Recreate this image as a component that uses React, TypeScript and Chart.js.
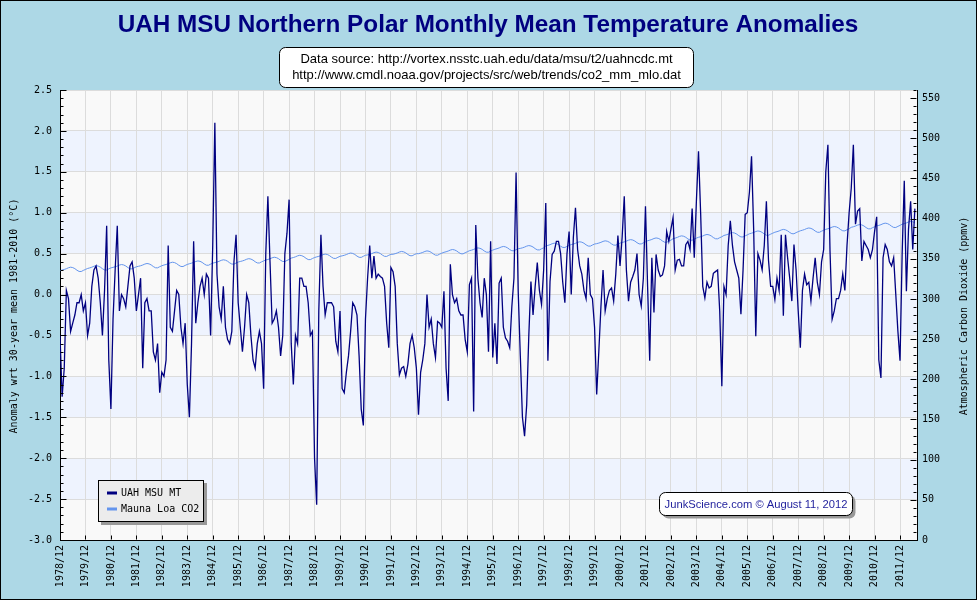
import React, { useEffect, useRef } from "react";
import { Chart, registerables } from "chart.js";

Chart.register(...registerables);

const chartTitle = "UAH MSU Northern Polar Monthly Mean Temperature Anomalies";
const sourceLines = [
  "Data source: http://vortex.nsstc.uah.edu/data/msu/t2/uahncdc.mt",
  "http://www.cmdl.noaa.gov/projects/src/web/trends/co2_mm_mlo.dat",
];
const creditText = "JunkScience.com \u00A9 August 11, 2012";
const leftAxisTitle = "Anomaly wrt 30-year mean 1981-2010 (\u00B0C)";
const rightAxisTitle = "Atmospheric Carbon Dioxide (ppmv)";
const seriesNames = ["UAH MSU MT", "Mauna Loa CO2"];

const xTickLabels = [
  "1978/12", "1979/12", "1980/12", "1981/12", "1982/12", "1983/12", "1984/12",
  "1985/12", "1986/12", "1987/12", "1988/12", "1989/12", "1990/12", "1991/12",
  "1992/12", "1993/12", "1994/12", "1995/12", "1996/12", "1997/12", "1998/12",
  "1999/12", "2000/12", "2001/12", "2002/12", "2003/12", "2004/12", "2005/12",
  "2006/12", "2007/12", "2008/12", "2009/12", "2010/12", "2011/12",
];
const xTickMonths = [
  0, 12, 24, 36, 48, 60, 72, 84, 96, 108, 120, 132, 144, 156, 168, 180, 192,
  204, 216, 228, 240, 252, 264, 276, 288, 300, 312, 324, 336, 348, 360, 372, 384, 396,
];
const yTickValues = [-3, -2.5, -2, -1.5, -1, -0.5, 0, 0.5, 1, 1.5, 2, 2.5];
const co2TickValues = [0, 50, 100, 150, 200, 250, 300, 350, 400, 450, 500, 550];

// UAH MSU MT Northern Polar monthly anomalies, 1978/12 .. 2012/07
const uahAnomaly = [
  -0.5, -1.25, -0.9, 0.05, -0.05, -0.45, -0.35, -0.25, -0.1, -0.1, 0.0, -0.2,
  -0.1, -0.5, -0.35, 0.1, 0.3, 0.35, 0.2, -0.1, -0.5, 0.05, 0.84, -0.8,
  -1.4, -0.3, 0.3, 0.84, -0.2, 0.0, -0.05, -0.15, 0.1, 0.35, 0.4, 0.2,
  -0.2, 0.0, 0.2, -0.9, -0.1, -0.05, -0.2, -0.2, -0.7, -0.8, -0.6, -1.2,
  -0.95, -1.0, -0.8, 0.6, -0.4, -0.45, -0.2, 0.05, 0.0, -0.4, -0.6, -0.35,
  -1.1, -1.5, -0.6, 0.65, -0.35, -0.1, 0.1, 0.2, 0.0, 0.25, 0.2, -0.5,
  0.6, 2.1, 0.25, -0.15, -0.3, 0.1, -0.4, -0.55, -0.6, -0.45, 0.4, 0.73,
  -0.1, -0.4, -0.7, -0.4, 0.0, -0.1, -0.5, -0.8, -0.9, -0.6, -0.45, -0.6,
  -1.15, 0.5, 1.2, 0.4, -0.35, -0.3, -0.2, -0.4, -0.75, -0.5, 0.5, 0.75,
  1.16, -0.6, -1.1, -0.5, -0.6, 0.2, 0.2, 0.1, 0.1, -0.1, -0.5, -0.45,
  -2.0, -2.57, -0.2, 0.73, 0.1, -0.25, -0.1, -0.1, -0.1, -0.15, -0.57, -0.7,
  -0.2, -1.15, -1.2, -0.95, -0.75, -0.45, -0.1, -0.15, -0.25, -0.75, -1.4, -1.6,
  -0.3, 0.2, 0.6, 0.2, 0.47, 0.2, 0.25, 0.22, 0.2, 0.1, -0.35, -0.65,
  0.33, 0.28, 0.1, -0.6, -0.98, -0.9, -0.88, -1.0, -0.85, -0.6, -0.5, -0.65,
  -0.9, -1.47, -0.95, -0.8, -0.6, 0.0, -0.4, -0.3, -0.6, -0.77, -0.33, -0.35,
  -0.4, 0.04, -0.9, -1.3, 0.37, 0.0, -0.1, -0.05, -0.2, -0.25, -0.25, -0.55,
  -0.7, 0.12, 0.2, -1.43, 0.85, 0.2, -0.1, -0.28, 0.2, 0.0, -0.7, 0.65,
  -0.77, -0.35, -0.85, 0.14, 0.2, -0.4, -0.53, -0.57, -0.65, -0.15, 0.2, 1.49,
  0.04, -0.75, -1.5, -1.73, -1.35, -0.5, 0.16, -0.25, 0.1, 0.39, 0.05, -0.12,
  0.3, 1.12, -0.81, 0.16, 0.49, 0.53, 0.65, 0.65, 0.5, 0.15, -0.1, 0.5,
  0.77, 0.0, 0.7, 1.06, 0.55, 0.35, 0.25, 0.05, -0.05, 0.45, 0.0, -0.05,
  -0.4, -1.22, -0.7, -0.15, 0.3, -0.2, -0.05, 0.05, 0.08, -0.08, 0.25, 0.72,
  0.35, 0.7, 1.2, 0.3, -0.08, 0.15, 0.22, 0.3, 0.5, 0.0, -0.14, 0.2,
  1.08, 0.1, -0.81, 0.45, -0.22, 0.49, 0.3, 0.22, 0.24, 0.35, 0.77, 0.65,
  0.8, 0.94, 0.3, 0.42, 0.43, 0.35, 0.35, 0.61, 0.65, 0.55, 1.05, 0.45,
  1.14, 1.75, 1.0, 0.1, -0.04, 0.15, 0.08, 0.1, 0.26, 0.28, 0.3, -0.2,
  -1.12, 0.1, 0.0, 0.6, 0.9, 0.6, 0.4, 0.3, 0.2, -0.24, 0.3, 0.98,
  1.0, 1.25, 1.69, 0.8, -0.51, 0.5, 0.42, 0.3, 0.6, 1.14, 0.42, 0.1,
  0.1, -0.06, 0.2, 0.05, 0.73, -0.26, 0.73, 0.45, 0.2, -0.08, 0.61, 0.3,
  -0.2, -0.65, 0.05, 0.25, 0.12, 0.15, -0.08, 0.2, 0.45, 0.15, 0.0, 0.4,
  0.55, 1.5, 1.83, 0.53, -0.3, -0.2, -0.05, -0.05, 0.05, 0.25, 0.05, 0.6,
  1.0, 1.3, 1.83, 0.86, 1.02, 1.05, 0.41, 0.65, 0.6, 0.55, 0.45, 0.55,
  0.77, 0.95, -0.8, -1.02, 0.45, 0.61, 0.55, 0.4, 0.35, 0.45, 0.0, -0.45,
  -0.81, 0.5, 1.39, 0.04, 0.8, 1.14, 0.55, 1.05,
];

// Mauna Loa monthly CO2 (ppmv), 1978/12 .. 2012/07
const co2Ppmv = [
  335.1,
  336.0, 336.7, 337.6, 338.8, 339.5, 339.0, 337.7, 335.7, 334.2, 334.1, 335.5, 336.7,
  337.9, 338.6, 339.5, 340.7, 341.4, 340.9, 339.6, 337.6, 336.1, 336.0, 337.4, 338.6,
  339.3, 340.0, 340.9, 342.1, 342.8, 342.3, 341.0, 339.0, 337.5, 337.4, 338.8, 340.0,
  340.6, 341.3, 342.2, 343.4, 344.1, 343.6, 342.3, 340.3, 338.8, 338.7, 340.1, 341.3,
  342.2, 342.9, 343.8, 345.0, 345.7, 345.2, 343.9, 341.9, 340.4, 340.3, 341.7, 342.9,
  343.8, 344.5, 345.4, 346.6, 347.3, 346.8, 345.5, 343.5, 342.0, 341.9, 343.3, 344.5,
  345.2, 345.9, 346.8, 348.0, 348.7, 348.2, 346.9, 344.9, 343.4, 343.3, 344.7, 345.9,
  346.6, 347.3, 348.2, 349.4, 350.1, 349.6, 348.3, 346.3, 344.8, 344.7, 346.1, 347.3,
  348.4, 349.1, 350.0, 351.2, 351.9, 351.4, 350.1, 348.1, 346.6, 346.5, 347.9, 349.1,
  350.8, 351.5, 352.4, 353.6, 354.3, 353.8, 352.5, 350.5, 349.0, 348.9, 350.3, 351.5,
  352.3, 353.0, 353.9, 355.1, 355.8, 355.3, 354.0, 352.0, 350.5, 350.4, 351.8, 353.0,
  353.6, 354.3, 355.2, 356.4, 357.1, 356.6, 355.3, 353.3, 351.8, 351.7, 353.1, 354.3,
  354.8, 355.5, 356.4, 357.6, 358.3, 357.8, 356.5, 354.5, 353.0, 352.9, 354.3, 355.5,
  355.6, 356.3, 357.2, 358.4, 359.1, 358.6, 357.3, 355.3, 353.8, 353.7, 355.1, 356.3,
  356.3, 357.0, 357.9, 359.1, 359.8, 359.3, 358.0, 356.0, 354.5, 354.4, 355.8, 357.0,
  358.0, 358.7, 359.6, 360.8, 361.5, 361.0, 359.7, 357.7, 356.2, 356.1, 357.5, 358.7,
  360.0, 360.7, 361.6, 362.8, 363.5, 363.0, 361.7, 359.7, 358.2, 358.1, 359.5, 360.7,
  361.8, 362.5, 363.4, 364.6, 365.3, 364.8, 363.5, 361.5, 360.0, 359.9, 361.3, 362.5,
  362.9, 363.6, 364.5, 365.7, 366.4, 365.9, 364.6, 362.6, 361.1, 361.0, 362.4, 363.6,
  365.9, 366.6, 367.5, 368.7, 369.4, 368.9, 367.6, 365.6, 364.1, 364.0, 365.4, 366.6,
  367.6, 368.3, 369.2, 370.4, 371.1, 370.6, 369.3, 367.3, 365.8, 365.7, 367.1, 368.3,
  368.8, 369.5, 370.4, 371.6, 372.3, 371.8, 370.5, 368.5, 367.0, 366.9, 368.3, 369.5,
  370.3, 371.0, 371.9, 373.1, 373.8, 373.3, 372.0, 370.0, 368.5, 368.4, 369.8, 371.0,
  372.4, 373.1, 374.0, 375.2, 375.9, 375.4, 374.1, 372.1, 370.6, 370.5, 371.9, 373.1,
  375.0, 375.7, 376.6, 377.8, 378.5, 378.0, 376.7, 374.7, 373.2, 373.1, 374.5, 375.7,
  376.7, 377.4, 378.3, 379.5, 380.2, 379.7, 378.4, 376.4, 374.9, 374.8, 376.2, 377.4,
  379.0, 379.7, 380.6, 381.8, 382.5, 382.0, 380.7, 378.7, 377.2, 377.1, 378.5, 379.7,
  381.1, 381.8, 382.7, 383.9, 384.6, 384.1, 382.8, 380.8, 379.3, 379.2, 380.6, 381.8,
  383.0, 383.7, 384.6, 385.8, 386.5, 386.0, 384.7, 382.7, 381.2, 381.1, 382.5, 383.7,
  384.8, 385.5, 386.4, 387.6, 388.3, 387.8, 386.5, 384.5, 383.0, 382.9, 384.3, 385.5,
  386.6, 387.3, 388.2, 389.4, 390.1, 389.6, 388.3, 386.3, 384.8, 384.7, 386.1, 387.3,
  389.1, 389.8, 390.7, 391.9, 392.6, 392.1, 390.8, 388.8, 387.3, 387.2, 388.6, 389.8,
  390.8, 391.5, 392.4, 393.6, 394.3, 393.8, 392.5, 390.5, 389.0, 388.9, 390.3, 391.5,
  393.0, 393.7, 394.6, 395.8, 396.5, 396.0, 394.7,
];

const MONO = '"DejaVu Sans Mono", monospace';
const SANS = '"Liberation Sans", Arial, sans-serif';
const NAVY = "#000080";
const CO2_BLUE = "#6495ed";

function roundRect(ctx: CanvasRenderingContext2D, x: number, y: number, w: number, h: number, r: number) {
  ctx.beginPath();
  ctx.moveTo(x + r, y);
  ctx.lineTo(x + w - r, y);
  ctx.arcTo(x + w, y, x + w, y + r, r);
  ctx.lineTo(x + w, y + h - r);
  ctx.arcTo(x + w, y + h, x + w - r, y + h, r);
  ctx.lineTo(x + r, y + h);
  ctx.arcTo(x, y + h, x, y + h - r, r);
  ctx.lineTo(x, y + r);
  ctx.arcTo(x, y, x + r, y, r);
  ctx.closePath();
}

const framePlugin = {
  id: "frame",
  beforeDraw(chart: any) {
    const { ctx, chartArea, scales } = chart;
    ctx.save();
    ctx.fillStyle = "#add8e6";
    ctx.fillRect(0, 0, chart.width, chart.height);
    ctx.fillStyle = "#f9f9f9";
    ctx.fillRect(chartArea.left, chartArea.top, chartArea.right - chartArea.left, chartArea.bottom - chartArea.top);
    const ys = scales.y;
    ctx.fillStyle = "#eef3fe";
    for (let k = 1; k < yTickValues.length - 1; k += 2) {
      const y1 = ys.getPixelForValue(yTickValues[k]);
      const y2 = ys.getPixelForValue(yTickValues[k + 1]);
      ctx.fillRect(chartArea.left, y2, chartArea.right - chartArea.left, y1 - y2);
    }
    ctx.restore();
  },
  afterDraw(chart: any) {
    const { ctx, chartArea, scales } = chart;
    const ys = scales.y;
    const y2s = scales.y2;
    const xs = scales.x;
    ctx.save();

    // inside tick marks
    ctx.strokeStyle = "#000";
    ctx.lineWidth = 1;
    ctx.beginPath();
    const L = Math.round(chartArea.left) + 0.5;
    const R = Math.round(chartArea.right) - 0.5;
    const B = Math.round(chartArea.bottom) - 0.5;
    for (let k = 0; k < yTickValues.length; k++) {
      const base = yTickValues[k];
      const py = Math.round(ys.getPixelForValue(base)) + 0.5;
      ctx.moveTo(L, py);
      ctx.lineTo(L + 6, py);
      if (k < yTickValues.length - 1) {
        for (let m = 1; m < 5; m++) {
          const my = Math.round(ys.getPixelForValue(base + m * 0.1)) + 0.5;
          ctx.moveTo(L, my);
          ctx.lineTo(L + 3, my);
        }
      }
    }
    for (let v = 0; v <= 560; v += 10) {
      const py = Math.round(y2s.getPixelForValue(v)) + 0.5;
      const len = v % 50 === 0 ? 6 : 3;
      ctx.moveTo(R, py);
      ctx.lineTo(R - len, py);
    }
    for (let k = 0; k < xTickMonths.length; k++) {
      const px = Math.round(xs.getPixelForValue(xTickMonths[k])) + 0.5;
      ctx.moveTo(px, B);
      ctx.lineTo(px, B - 4);
    }
    ctx.stroke();

    // main title
    ctx.fillStyle = NAVY;
    ctx.font = `bold 24.3px ${SANS}`;
    ctx.textAlign = "center";
    ctx.textBaseline = "middle";
    ctx.fillText(chartTitle, 488, 25);

    // data source box
    roundRect(ctx, 279.5, 47.5, 414, 40, 6);
    ctx.fillStyle = "#ffffff";
    ctx.fill();
    ctx.strokeStyle = "#000";
    ctx.stroke();
    ctx.fillStyle = "#000";
    ctx.font = `13px ${SANS}`;
    ctx.fillText(sourceLines[0], 486.5, 59);
    ctx.fillText(sourceLines[1], 486.5, 75);

    // axis titles
    ctx.font = `10px ${MONO}`;
    ctx.fillStyle = "#000";
    ctx.save();
    ctx.translate(14, 316);
    ctx.rotate(-Math.PI / 2);
    ctx.fillText(leftAxisTitle, 0, 0);
    ctx.restore();
    ctx.save();
    ctx.translate(964, 316);
    ctx.rotate(-Math.PI / 2);
    ctx.fillText(rightAxisTitle, 0, 0);
    ctx.restore();

    // legend
    ctx.fillStyle = "#999999";
    ctx.fillRect(101, 483, 106, 42);
    ctx.fillStyle = "#ececec";
    ctx.fillRect(98.5, 480.5, 105, 41);
    ctx.strokeStyle = "#000";
    ctx.strokeRect(98.5, 480.5, 105, 41);
    const ds = chart.data.datasets;
    const rows = [493, 509];
    ds.forEach((d: any, i: number) => {
      ctx.strokeStyle = d.borderColor;
      ctx.lineWidth = 3;
      ctx.beginPath();
      ctx.moveTo(107, rows[i]);
      ctx.lineTo(117, rows[i]);
      ctx.stroke();
      ctx.fillStyle = "#000";
      ctx.font = `10px ${MONO}`;
      ctx.textAlign = "left";
      ctx.fillText(d.label, 121, rows[i] + 0.5);
    });

    // credit box
    ctx.lineWidth = 1;
    roundRect(ctx, 662.5, 495.5, 193, 23, 6);
    ctx.fillStyle = "#999999";
    ctx.fill();
    roundRect(ctx, 659.5, 492.5, 193, 23, 6);
    ctx.fillStyle = "#ffffff";
    ctx.fill();
    ctx.strokeStyle = "#000";
    ctx.stroke();
    ctx.fillStyle = "#1f1f9c";
    ctx.font = `11.2px ${SANS}`;
    ctx.textAlign = "center";
    ctx.fillText(creditText, 756, 504.5);

    // outer border
    ctx.strokeStyle = "#000";
    ctx.lineWidth = 1;
    ctx.strokeRect(0.5, 0.5, chart.width - 1, chart.height - 1);
    ctx.restore();
  },
};

export default function App() {
  const canvasRef = useRef<HTMLCanvasElement | null>(null);

  useEffect(() => {
    document.body.style.margin = "0";
    const canvas = canvasRef.current;
    if (!canvas) return;
    const chart = new Chart(canvas, {
      type: "line",
      data: {
        datasets: [
          {
            label: seriesNames[0],
            data: uahAnomaly.map((v, i) => ({ x: i, y: v })),
            borderColor: NAVY,
            borderWidth: 1.3,
            pointRadius: 0,
            tension: 0,
            yAxisID: "y",
          },
          {
            label: seriesNames[1],
            data: co2Ppmv.map((v, i) => ({ x: i, y: v })),
            borderColor: CO2_BLUE,
            borderWidth: 1,
            pointRadius: 0,
            tension: 0,
            yAxisID: "y2",
          },
        ],
      },
      options: {
        animation: false,
        responsive: false,
        devicePixelRatio: 1,
        layout: { padding: { top: 90, left: 0, right: 0, bottom: 0 } },
        plugins: {
          legend: { display: false },
          tooltip: { enabled: false },
          title: { display: false },
        },
        scales: {
          x: {
            type: "linear",
            min: 0,
            max: 404,
            afterBuildTicks: (s: any) => {
              s.ticks = xTickMonths.map((m) => ({ value: m }));
            },
            afterFit: (s: any) => {
              s.height = 60;
            },
            ticks: {
              autoSkip: false,
              minRotation: 90,
              maxRotation: 90,
              padding: 5,
              color: "#000",
              font: { family: MONO, size: 10 },
              callback: (_v: any, idx: number) => xTickLabels[idx],
            },
            grid: { color: "#dcdcdc", drawTicks: false },
            border: { color: "#000", width: 1 },
          },
          y: {
            position: "left",
            min: -3,
            max: 2.5,
            afterBuildTicks: (s: any) => {
              s.ticks = yTickValues.map((v) => ({ value: v }));
            },
            afterFit: (s: any) => {
              s.width = 60;
            },
            ticks: {
              padding: 8,
              color: "#000",
              font: { family: MONO, size: 10 },
              callback: (v: any) => Number(v).toFixed(1),
            },
            grid: { color: "#dcdcdc", drawTicks: false },
            border: { color: "#000", width: 1 },
          },
          y2: {
            position: "right",
            min: 0,
            max: 560,
            afterBuildTicks: (s: any) => {
              s.ticks = co2TickValues.map((v) => ({ value: v }));
            },
            afterFit: (s: any) => {
              s.width = 60;
            },
            ticks: {
              padding: 5,
              color: "#000",
              font: { family: MONO, size: 10 },
              callback: (v: any) => String(v),
            },
            grid: { display: false, drawTicks: false },
            border: { color: "#000", width: 1 },
          },
        },
      },
      plugins: [framePlugin],
    });
    return () => chart.destroy();
  }, []);

  return (
    <div style={{ width: 977, height: 600 }}>
      <canvas ref={canvasRef} width={977} height={600} style={{ display: "block" }} />
    </div>
  );
}
